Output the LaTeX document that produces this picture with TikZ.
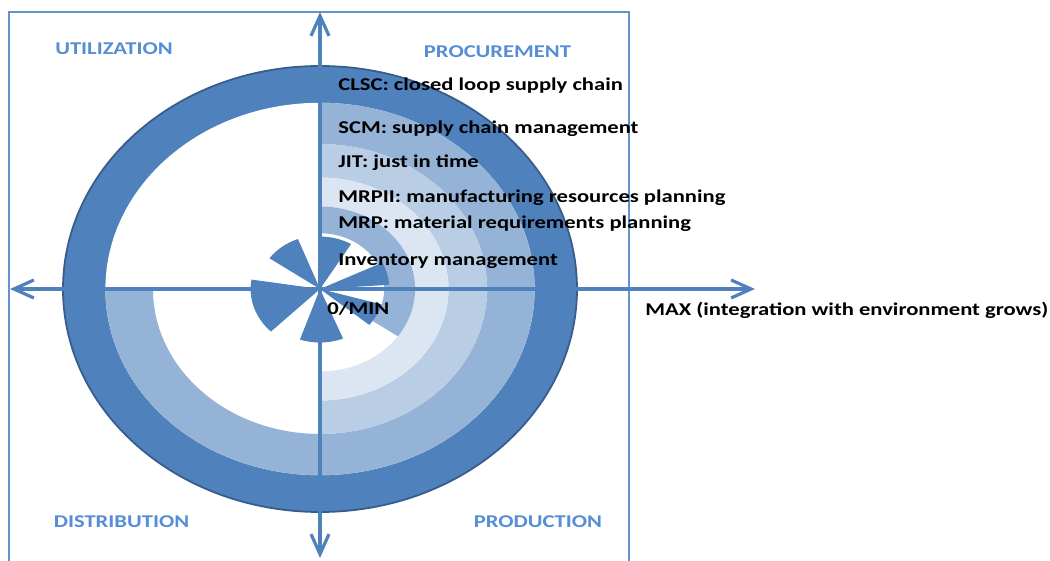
\documentclass[tikz,border=0pt]{standalone}
\usepackage{fontspec}
\setmainfont{Carlito}
\usepackage{graphicx}
\usetikzlibrary{arrows.meta}

\definecolor{ringdark}{RGB}{79,129,189}
\definecolor{ringmid}{RGB}{149,179,215}
\definecolor{ringlight}{RGB}{185,205,229}
\definecolor{ringpale}{RGB}{220,230,242}
\definecolor{rimdark}{RGB}{56,93,138}
\definecolor{quadblue}{RGB}{85,142,213}
\definecolor{frameblue}{RGB}{100,148,205}

\newcommand{\wide}[1]{\scalebox{1.255}[1]{#1}}
\newcommand{\band}[5]{\fill [#5] (#1:#4) arc [start angle=#1, end angle=#2, radius=#4] -- (#2:#3) arc [start angle=#2, end angle=#1, radius=#3] -- cycle;}

\begin{document}
\begin{tikzpicture}[x=0.5pt, y=0.5pt]
	\tikzstyle{Item} = [anchor=base west, inner sep=0pt, font=\fontsize{9}{11}\selectfont\bfseries, text=black]
	\tikzstyle{Quad} = [anchor=base, inner sep=0pt, font=\fontsize{9}{11}\selectfont\bfseries, text=quadblue]
	\tikzstyle{axis} = [line width=1.6pt, ringdark, {Straight Barb[length=10pt,width=9pt]}-{Straight Barb[length=10pt,width=9pt]}]
	
	\clip (0,0) rectangle (1050,561);
	\draw [frameblue, line width=0.75pt] (9,549) rectangle (629,-10);
	
	% rings round the centre
	\begin{scope}[shift={(160pt,136pt)}, x=128.5pt, y=111.5pt]
		\fill [ringdark] (0,0) circle [radius=1];
		\fill [white] (0,0) circle [radius=0.835];
		\band{90}{-180}{0.65}{0.835}{ringmid}
		\band{90}{-90}{0.5}{0.65}{ringlight}
		\band{90}{-90}{0.37}{0.5}{ringpale}
		\band{90}{-35}{0.25}{0.37}{ringmid}
		\draw [rimdark, line width=0.9pt] (0,0) circle [radius=1];
		\foreach \a/\b/\r in {59/90/0.235, 111/145/0.24, 171/225/0.27, 251/292/0.24, 320/344/0.25, 4/26/0.27}
			\fill [ringdark] (0,0) -- (\a:\r) arc [start angle=\a, end angle=\b, radius=\r] -- cycle;
	\end{scope}
	
	\coordinate (W) at (10,272);
	\coordinate (E) at (755,272);
	\coordinate (N) at (320,549);
	\coordinate (S) at (320,3);
	\draw [axis] (W) -- (E);
	\draw [axis] (S) -- (N);
	
	\node (util) [Quad] at (114,506.5) {\wide{UTILIZATION}};
	\node (proc) [Quad] at (497.5,503.5) {\wide{PROCUREMENT}};
	\node (dist) [Quad] at (121.5,33.5) {\wide{DISTRIBUTION}};
	\node (prod) [Quad] at (538,33.5) {\wide{PRODUCTION}};
	
	\node (clsc) [Item] at (338,470.5) {\wide{CLSC: closed loop supply chain}};
	\node (scm) [Item] at (338,427.5) {\wide{SCM: supply chain management}};
	\node (jit) [Item] at (338,393.5) {\wide{JIT: just in time}};
	\node (mrpii) [Item] at (338,358.5) {\wide{MRPII: manufacturing resources planning}};
	\node (mrp) [Item] at (338,332.5) {\wide{MRP: material requirements planning}};
	\node (inv) [Item] at (338,295.5) {\wide{Inventory management}};
	\node (min) [Item] at (327,246.5) {\wide{0/MIN}};
	\node (max) [Item] at (645,245.5) {\wide{MAX (integration with environment grows)}};
\end{tikzpicture}
\end{document}
